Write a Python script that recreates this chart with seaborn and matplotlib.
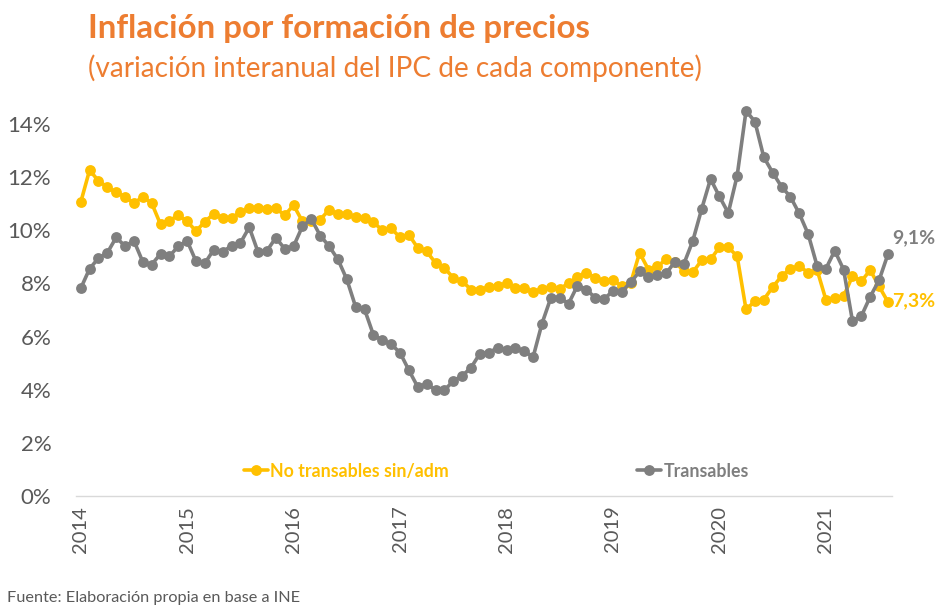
import pandas as pd
import matplotlib.pyplot as plt
import seaborn as sns
import numpy as np

# datos mensuales ene-2014 a ago-2021 (variacion interanual, %)
fechas = pd.date_range("2014-01-01", periods=92, freq="MS")

no_transables = [
    11.05, 12.26, 11.86, 11.62, 11.42, 11.26, 11.01, 11.26, 11.02, 10.22, 10.35, 10.57,
    10.33, 9.97, 10.32, 10.62, 10.46, 10.47, 10.67, 10.84, 10.85, 10.81, 10.82, 10.57,
    10.94, 10.33, 10.35, 10.40, 10.77, 10.61, 10.62, 10.49, 10.46, 10.30, 10.00, 10.07,
    9.73, 9.83, 9.33, 9.20, 8.77, 8.58, 8.21, 8.08, 7.77, 7.77, 7.86, 7.89,
    8.02, 7.83, 7.82, 7.68, 7.80, 7.87, 7.80, 8.00, 8.25, 8.40, 8.21, 8.08,
    8.11, 7.90, 8.02, 9.15, 8.52, 8.64, 8.90, 8.80, 8.46, 8.42, 8.87, 8.90,
    9.36, 9.36, 9.02, 7.02, 7.33, 7.39, 7.86, 8.27, 8.55, 8.66, 8.40, 8.52,
    7.39, 7.46, 7.52, 8.27, 8.08, 8.50, 7.89, 7.30,
]

transables = [
    7.81, 8.55, 8.95, 9.15, 9.73, 9.40, 9.60, 8.81, 8.71, 9.11, 9.02, 9.40,
    9.60, 8.83, 8.76, 9.27, 9.18, 9.42, 9.52, 10.11, 9.17, 9.23, 9.72, 9.30,
    9.40, 10.15, 10.42, 9.80, 9.40, 8.90, 8.15, 7.11, 7.02, 6.06, 5.86, 5.71,
    5.39, 4.73, 4.10, 4.23, 3.98, 3.98, 4.33, 4.52, 4.83, 5.36, 5.39, 5.58,
    5.50, 5.56, 5.45, 5.23, 6.49, 7.46, 7.46, 7.24, 7.92, 7.77, 7.46, 7.40,
    7.73, 7.69, 8.04, 8.45, 8.23, 8.30, 8.38, 8.82, 8.74, 9.60, 10.80, 11.93,
    11.27, 10.65, 12.05, 14.49, 14.09, 12.75, 12.17, 11.64, 11.26, 10.63, 9.86, 8.67,
    8.55, 9.23, 8.52, 6.58, 6.77, 7.50, 8.12, 9.10,
]

series = ["No transables sin/adm", "Transables"]
colores = ["#FFC000", "#7F7F7F"]
anios = [str(a) for a in range(2014, 2022)]

df = pd.DataFrame({
    "mes": np.arange(len(fechas)),
    series[0]: no_transables,
    series[1]: transables,
})
largo = df.melt(id_vars="mes", var_name="serie", value_name="valor")

sns.set_theme(style="white")
plt.rcParams["font.family"] = ["Lato", "DejaVu Sans"]

fig = plt.figure(figsize=(9.37, 6.06), dpi=100)
ax = fig.add_axes([0.0814, 0.1815, 0.871, 0.614])

sns.lineplot(data=largo, x="mes", y="valor", hue="serie", palette=colores,
             hue_order=series, marker="o", markersize=7.8, markeredgewidth=0,
             linewidth=2.6, ax=ax, clip_on=False)

ax.set_xlim(-0.5, 91.5)
ax.set_ylim(0, 14)
ax.set_yticks(range(0, 15, 2))
ax.set_yticklabels([f"{v}%" for v in range(0, 15, 2)])
ax.set_xticks(range(0, 92, 12))
ax.set_xticklabels(anios, rotation=90)
ax.set_xlabel("")
ax.set_ylabel("")
ax.tick_params(axis="y", labelsize=16, labelcolor="#595959", pad=18, length=0)
ax.tick_params(axis="x", labelsize=14.5, labelcolor="#595959", pad=7, length=0)
for lado in ["top", "right", "left"]:
    ax.spines[lado].set_visible(False)
ax.spines["bottom"].set_color("#D9D9D9")
ax.spines["bottom"].set_linewidth(1)

ax.legend(loc="center", bbox_to_anchor=(0.515, 0.067), ncol=2, frameon=False,
          prop={"weight": "bold", "size": 12.8}, labelcolor="linecolor",
          handlelength=1.35, handletextpad=0.15, columnspacing=10.6)

ax.annotate("9,1%", (91, transables[-1]), xytext=(3, 12), textcoords="offset points",
            color="#7F7F7F", fontsize=14, fontweight="bold", va="center", ha="left",
            annotation_clip=False)
ax.annotate("7,3%", (91, no_transables[-1]), xytext=(3, 1), textcoords="offset points",
            color="#FFC000", fontsize=14, fontweight="bold", va="center", ha="left",
            annotation_clip=False)

fig.text(0.094, 0.953, "Inflación por formación de precios", color="#ED7D31",
         fontsize=23.8, fontweight="bold", va="center", ha="left")
fig.text(0.094, 0.887, "(variación interanual del IPC de cada componente)", color="#ED7D31",
         fontsize=20.2, va="center", ha="left")
fig.text(0.008, 0.013, "Fuente: Elaboración propia en base a INE", color="#595959",
         fontsize=11.7, va="center", ha="left")

fig.savefig("out.png", dpi=100, facecolor="white")
